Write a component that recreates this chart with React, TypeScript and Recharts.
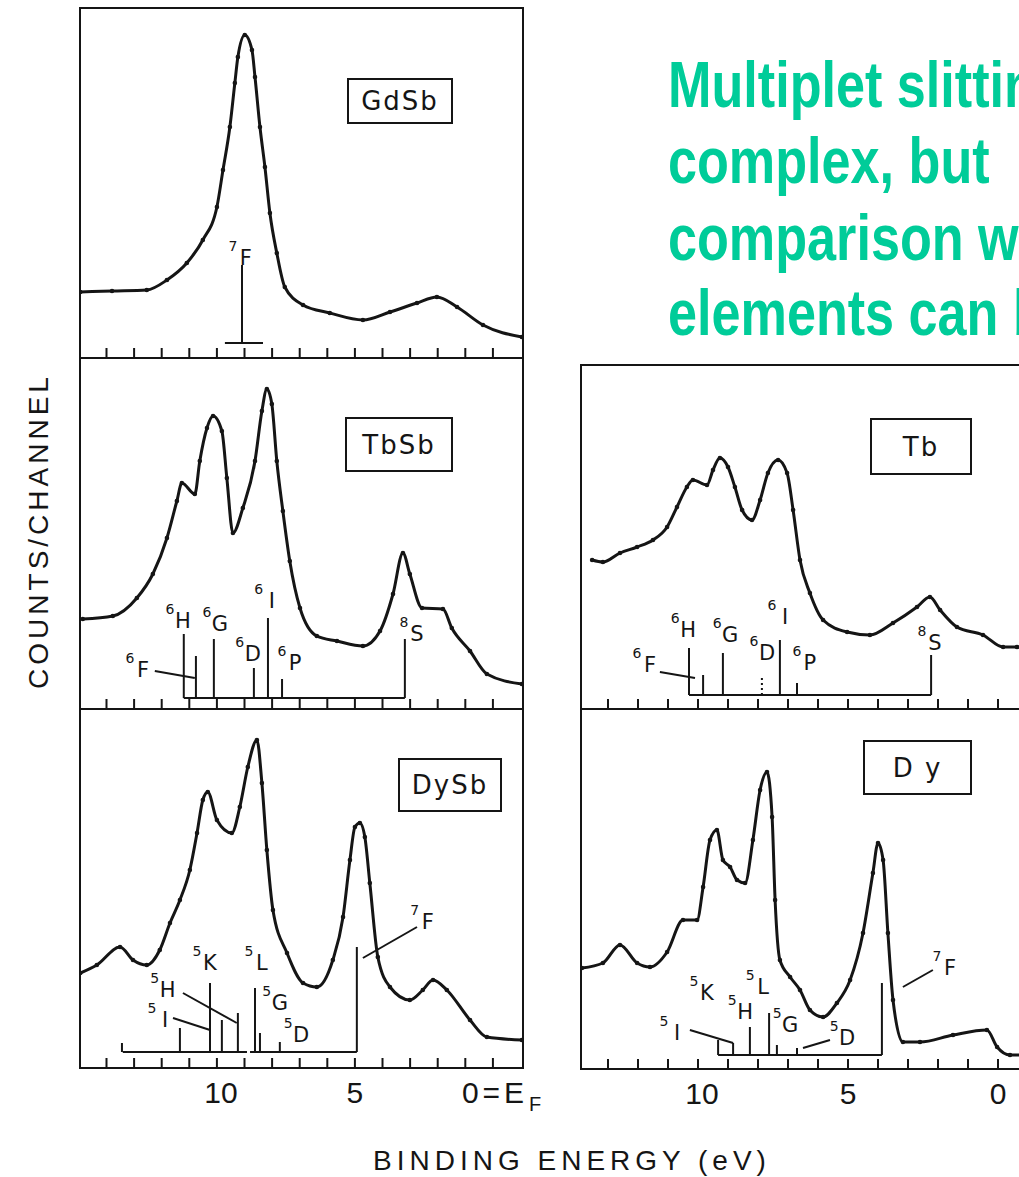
import React from 'react';
import { ComposedChart, Line, XAxis, YAxis, ReferenceLine, ReferenceDot } from 'recharts';

// ---- spectra: binding energy (eV) and counts per channel (arbitrary units) ----
const gdsbEnergy = [14.95, 13.8, 12.54, 11.81, 11.09, 10.51, 10.0, 9.78, 9.53, 9.35, 9.24, 8.99, 8.73, 8.62, 8.44, 8.26, 8.08, 7.83, 7.54, 6.88, 5.91, 4.71, 3.73, 2.75, 2.03, 1.3, 0.36, -1.05];
const gdsbCounts = [66, 67, 68, 78, 95, 118, 151, 188, 231, 275, 301, 323, 308, 281, 231, 191, 145, 105, 71, 53, 45, 38, 46, 55, 61, 51, 33, 21];

const tbsbEnergy = [14.86, 13.77, 12.9, 12.32, 11.81, 11.45, 11.27, 10.8, 10.62, 10.36, 10.14, 9.82, 9.64, 9.42, 9.06, 8.62, 8.37, 8.19, 8.01, 7.83, 7.61, 7.36, 6.99, 6.38, 5.65, 4.71, 4.09, 3.62, 3.26, 3.01, 2.57, 1.81, 1.49, 0.83, 0.22, -1.05];
const tbsbCounts = [90, 93, 111, 135, 171, 208, 226, 215, 248, 281, 293, 278, 231, 176, 201, 248, 298, 320, 305, 248, 198, 148, 101, 73, 68, 63, 78, 115, 156, 135, 101, 100, 81, 58, 35, 25];

const dysbEnergy = [14.95, 14.35, 13.51, 13.04, 12.54, 12.07, 11.7, 11.34, 10.98, 10.72, 10.51, 10.33, 10.0, 9.46, 9.17, 8.88, 8.55, 8.37, 8.19, 7.97, 7.46, 6.88, 6.38, 5.8, 5.43, 5.18, 5.0, 4.82, 4.64, 4.46, 4.17, 3.73, 3.01, 2.54, 2.17, 1.67, 0.83, 0.22, -1.05];
const dysbCounts = [95, 103, 121, 108, 103, 118, 145, 168, 198, 235, 268, 276, 248, 235, 261, 301, 328, 285, 218, 158, 115, 85, 81, 108, 151, 208, 241, 245, 231, 185, 111, 81, 68, 78, 88, 78, 48, 31, 28];

const tbEnergy = [13.53, 13.17, 12.6, 12.03, 11.5, 11.03, 10.7, 10.37, 10.17, 9.7, 9.5, 9.27, 9.0, 8.77, 8.53, 8.2, 7.93, 7.67, 7.33, 7.03, 6.83, 6.6, 6.27, 5.83, 5.03, 4.27, 3.5, 2.7, 2.27, 1.93, 1.37, 0.5, -0.17, -0.63, -1.09];
const tbCounts = [149, 147, 156, 162, 169, 182, 202, 222, 229, 224, 239, 251, 242, 222, 199, 189, 209, 236, 249, 236, 199, 149, 116, 89, 77, 74, 86, 102, 112, 99, 82, 74, 62, 62, 59];

const dyEnergy = [13.87, 13.17, 12.6, 12.03, 11.6, 11.03, 10.5, 10.03, 9.83, 9.6, 9.37, 9.17, 8.93, 8.7, 8.43, 8.17, 7.93, 7.7, 7.53, 7.43, 7.27, 6.93, 6.6, 6.27, 5.83, 5.37, 4.93, 4.5, 4.17, 4.0, 3.83, 3.67, 3.5, 3.17, 2.6, 1.5, 0.37, 0.03, -0.4, -1.09];
const dyCounts = [101, 106, 124, 106, 102, 117, 149, 149, 182, 229, 239, 209, 202, 189, 186, 229, 279, 297, 252, 169, 109, 92, 79, 59, 52, 66, 89, 136, 196, 226, 209, 136, 69, 27, 27, 34, 39, 22, 14, 14];

// ---- final-state multiplet sticks: energy, relative height ----
const gdsbStickE = [9.09];
const gdsbStickH = [93];
const tbsbStickE = [11.2, 10.76, 10.11, 8.66, 8.15, 7.64, 3.19];
const tbsbStickH = [75, 53, 70, 41, 91, 30, 70];
const dysbStickE = [13.44, 11.34, 10.25, 9.82, 9.24, 8.62, 8.44, 7.72, 4.93];
const dysbStickH = [25, 40, 85, 48, 55, 80, 35, 26, 121];
const tbStickE = [10.3, 9.83, 9.17, 7.87, 7.27, 6.7, 2.23];
const tbStickH = [61, 34, 56, 34, 69, 26, 54];
const dyStickE = [9.33, 8.83, 8.27, 7.63, 7.37, 6.7, 3.87];
const dyStickH = [29, 26, 42, 56, 24, 21, 86];

// stick baselines: [level, from eV, to eV]
const gdsbBase = [[15, 9.71, 8.33]];
const tbsbBase = [[11, 11.2, 3.19]];
const dysbBase = [[16, 13.41, 8.91], [16, 8.8, 4.93]];
const tbBase = [[14, 10.3, 2.23]];
const dyBase = [[14, 9.33, 3.87]];

// term labels
const gdsbTerms = [{ s: '7', t: 'F', e: 8.95, c: 100 }];
const tbsbTerms = [
  { s: '6', t: 'H', e: 11.23, c: 88 }, { s: '6', t: 'F', e: 12.68, c: 39 }, { s: '6', t: 'G', e: 9.89, c: 85 },
  { s: '6', t: 'D', e: 8.7, c: 55 }, { s: '6', t: 'I', e: 8.01, c: 108 }, { s: '6', t: 'P', e: 7.17, c: 46 },
  { s: '8', t: 'S', e: 2.75, c: 75 },
];
const dysbTerms = [
  { s: '5', t: 'K', e: 10.25, c: 105 }, { s: '5', t: 'L', e: 8.37, c: 105 }, { s: '5', t: 'H', e: 11.78, c: 78 },
  { s: '5', t: 'I', e: 11.88, c: 48 }, { s: '5', t: 'G', e: 7.72, c: 65 }, { s: '5', t: 'D', e: 6.95, c: 33 },
  { s: '7', t: 'F', e: 2.36, c: 146 },
];
const tbTerms = [
  { s: '6', t: 'H', e: 10.33, c: 79 }, { s: '6', t: 'F', e: 11.6, c: 44 }, { s: '6', t: 'G', e: 8.93, c: 74 },
  { s: '6', t: 'D', e: 7.7, c: 56 }, { s: '6', t: 'I', e: 7.1, c: 92 }, { s: '6', t: 'P', e: 6.27, c: 46 },
  { s: '8', t: 'S', e: 2.1, c: 66 },
];
const dyTerms = [
  { s: '5', t: 'K', e: 9.7, c: 76 }, { s: '5', t: 'H', e: 8.43, c: 57 }, { s: '5', t: 'L', e: 7.83, c: 82 },
  { s: '5', t: 'G', e: 6.93, c: 44 }, { s: '5', t: 'D', e: 5.03, c: 31 }, { s: '5', t: 'I', e: 10.7, c: 36 },
  { s: '7', t: 'F', e: 1.6, c: 101 },
];

// leader lines from label to stick: [e1, c1, e2, c2]
const tbsbLeaders = [[12.25, 38, 10.8, 31]];
const dysbLeaders = [[11.23, 75, 9.28, 45], [11.59, 50, 10.25, 38], [4.71, 110, 2.75, 141]];
const tbLeaders = [[11.27, 37, 10.1, 31]];
const dyLeaders = [[10.27, 39, 8.83, 26], [6.5, 21, 5.6, 29], [3.17, 82, 2.17, 99]];

const leftTicks = [14, 13, 12, 11, 10, 9, 8, 7, 6, 5, 4, 3, 2, 1, 0];
const rightTicks = [13, 12, 11, 10, 9, 8, 7, 6, 5, 4, 3, 2, 1, 0];

const INK = '#151515';
const FONT = '"DejaVu Sans", "Liberation Sans", sans-serif';
const SANS = '"Liberation Sans", sans-serif';

const termLabel = (sup: string, main: string) => (props: any) => {
  const vb = props.viewBox || {};
  const x = vb.x;
  const y = vb.y;
  return (
    <g>
      <text x={x - 13} y={y - 12} fontSize={14} fontFamily={FONT} fill={INK} textAnchor="middle" dominantBaseline="central">{sup}</text>
      <text x={x} y={y} fontSize={21} fontFamily={FONT} fill={INK} textAnchor="middle" dominantBaseline="central">{main}</text>
    </g>
  );
};

const makeTick = (show: boolean, side: 'L' | 'R') => (props: any) => {
  const { x, y, payload } = props;
  const v = payload.value;
  if (!show || (v !== 10 && v !== 5 && v !== 0)) return <g />;
  if (v === 0 && side === 'L') {
    return (
      <g>
        <text x={x - 31} y={y + 35} fontSize={30} letterSpacing={4} fontFamily={SANS} fill={INK}>0=E</text>
        <text x={x + 36} y={y + 43} fontSize={20} fontFamily={SANS} fill={INK}>F</text>
      </g>
    );
  }
  return (
    <text x={x + (v === 10 ? 4 : 0)} y={y + 35} fontSize={30} textAnchor="middle" fontFamily={SANS} fill={INK}>{v}</text>
  );
};

interface PanelProps {
  left: number;
  top: number;
  width: number;
  plotH: number;
  domain: [number, number];
  ticks: number[];
  energy: number[];
  counts: number[];
  stickE: number[];
  stickH: number[];
  base: number[][];
  terms: { s: string; t: string; e: number; c: number }[];
  leaders: number[][];
  name: string;
  box: { x: number; y: number; w: number; h: number };
  showLabels: boolean;
  side: 'L' | 'R';
  dottedStick?: number;
}

function Panel(p: PanelProps) {
  const rows = p.energy.map((e, i) => ({ e, c: p.counts[i] }));
  return (
    <>
      <div style={{ position: 'absolute', left: p.left, top: p.top }}>
        <ComposedChart width={p.width} height={p.plotH + 40} margin={{ top: 0, right: 0, bottom: 0, left: 0 }}>
          <XAxis
            type="number"
            dataKey="e"
            domain={p.domain}
            allowDataOverflow
            reversed
            ticks={p.ticks}
            interval={0}
            height={40}
            axisLine={false}
            tickSize={-10}
            tickMargin={10}
            tickLine={{ stroke: INK, strokeWidth: 2 }}
            tick={makeTick(p.showLabels, p.side)}
          />
          <YAxis type="number" hide domain={[0, p.plotH]} allowDataOverflow />
          {p.base.map((b, i) => (
            <ReferenceLine key={'b' + i} segment={[{ x: b[1], y: b[0] }, { x: b[2], y: b[0] }]} stroke={INK} strokeWidth={2} ifOverflow="visible" />
          ))}
          {p.stickE.map((e, i) => (
            <ReferenceLine
              key={'s' + i}
              segment={[{ x: e, y: p.base[0][0] }, { x: e, y: p.stickH[i] }]}
              stroke={INK}
              strokeWidth={2}
              strokeDasharray={p.dottedStick === i ? '2 3' : undefined}
              ifOverflow="visible"
            />
          ))}
          {p.leaders.map((l, i) => (
            <ReferenceLine key={'l' + i} segment={[{ x: l[0], y: l[1] }, { x: l[2], y: l[3] }]} stroke={INK} strokeWidth={2} ifOverflow="visible" />
          ))}
          {p.terms.map((t, i) => (
            <ReferenceDot key={'t' + i} x={t.e} y={t.c} r={0} fill="none" stroke="none" ifOverflow="visible" label={termLabel(t.s, t.t)} />
          ))}
          <Line
            data={rows}
            dataKey="c"
            type="monotone"
            stroke={INK}
            strokeWidth={3}
            dot={{ r: 2.3, fill: INK, stroke: 'none' }}
            isAnimationActive={false}
          />
        </ComposedChart>
      </div>
      <div
        style={{
          position: 'absolute',
          left: p.box.x,
          top: p.box.y,
          width: p.box.w,
          height: p.box.h,
          border: `2px solid ${INK}`,
          boxSizing: 'border-box',
          display: 'flex',
          alignItems: 'center',
          justifyContent: 'center',
          fontFamily: FONT,
          fontSize: 26,
          letterSpacing: 2,
          color: INK,
          background: '#fff',
        }}
      >
        {p.name}
      </div>
    </>
  );
}

function Frame({ x, y, w, h }: { x: number; y: number; w: number; h: number }) {
  return (
    <div
      style={{
        position: 'absolute',
        left: x - 1,
        top: y - 1,
        width: w + 2,
        height: h + 2,
        border: `2.5px solid ${INK}`,
        boxSizing: 'border-box',
        pointerEvents: 'none',
      }}
    />
  );
}

const LX = 80;
const LW = 443;
const RX = 581;
const RW = 450;
const leftDomain: [number, number] = [-1.09, 14.96];
const rightDomain: [number, number] = [-1.1, 13.9];

export default function App() {
  return (
    <div style={{ position: 'fixed', left: 0, top: 0, width: 1019, height: 1177, overflow: 'hidden', background: '#fff' }}>
      <style>{'.recharts-surface{overflow:visible}'}</style>
      <Panel left={LX} top={8} width={LW} plotH={350} domain={leftDomain} ticks={leftTicks}
        energy={gdsbEnergy} counts={gdsbCounts} stickE={gdsbStickE} stickH={gdsbStickH} base={gdsbBase}
        terms={gdsbTerms} leaders={[]} name="GdSb" box={{ x: 347, y: 78, w: 106, h: 46 }} showLabels={false} side="L" />
      <Panel left={LX} top={358} width={LW} plotH={351} domain={leftDomain} ticks={leftTicks}
        energy={tbsbEnergy} counts={tbsbCounts} stickE={tbsbStickE} stickH={tbsbStickH} base={tbsbBase}
        terms={tbsbTerms} leaders={tbsbLeaders} name="TbSb" box={{ x: 345, y: 417, w: 108, h: 55 }} showLabels={false} side="L" />
      <Panel left={LX} top={709} width={LW} plotH={359} domain={leftDomain} ticks={leftTicks}
        energy={dysbEnergy} counts={dysbCounts} stickE={dysbStickE} stickH={dysbStickH} base={dysbBase}
        terms={dysbTerms} leaders={dysbLeaders} name="DySb" box={{ x: 398, y: 758, w: 104, h: 54 }} showLabels={true} side="L" />
      <Panel left={RX} top={365} width={RW} plotH={344} domain={rightDomain} ticks={rightTicks}
        energy={tbEnergy} counts={tbCounts} stickE={tbStickE} stickH={tbStickH} base={tbBase}
        terms={tbTerms} leaders={tbLeaders} name="Tb" box={{ x: 870, y: 418, w: 102, h: 57 }} showLabels={false} side="R" dottedStick={3} />
      <Panel left={RX} top={709} width={RW} plotH={360} domain={rightDomain} ticks={rightTicks}
        energy={dyEnergy} counts={dyCounts} stickE={dyStickE} stickH={dyStickH} base={dyBase}
        terms={dyTerms} leaders={dyLeaders} name="D y" box={{ x: 863, y: 740, w: 109, h: 55 }} showLabels={true} side="R" />

      <Frame x={LX} y={8} w={LW} h={350} />
      <Frame x={LX} y={358} w={LW} h={351} />
      <Frame x={LX} y={709} w={LW} h={359} />
      <Frame x={RX} y={365} w={RW} h={344} />
      <Frame x={RX} y={709} w={RW} h={360} />

      <svg width={1019} height={1177} style={{ position: 'absolute', left: 0, top: 0, pointerEvents: 'none' }}>
        <text x={38} y={531} transform="rotate(-90 38 531)" textAnchor="middle" dominantBaseline="central"
          fontSize={28} letterSpacing={4} fontFamily={SANS} fill={INK}>COUNTS/CHANNEL</text>
        <text x={572} y={1170} textAnchor="middle" fontSize={28} letterSpacing={5}
          fontFamily={SANS} fill={INK}>BINDING ENERGY (eV)</text>
        <g fill="#00CC99" fontFamily='"Liberation Sans", Arial, sans-serif' fontWeight="bold" fontSize={64}>
          <text transform="translate(668 107) scale(0.815 1)">Multiplet slitting is</text>
          <text transform="translate(668 183) scale(0.815 1)">complex, but</text>
          <text transform="translate(668 260) scale(0.815 1)">comparison with</text>
          <text transform="translate(668 335) scale(0.815 1)">elements can be</text>
        </g>
      </svg>
    </div>
  );
}
